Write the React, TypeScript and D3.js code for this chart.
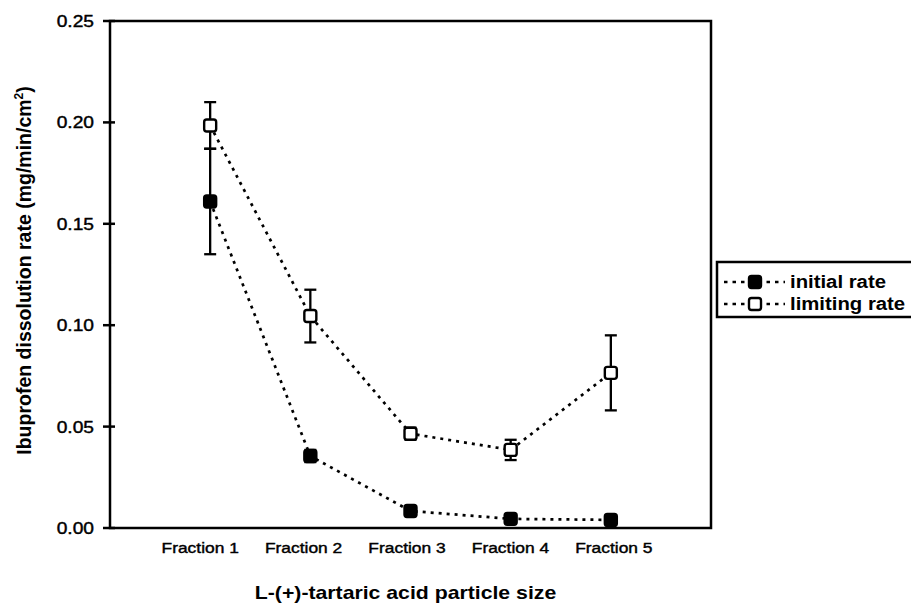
import React from 'react';
import * as d3 from 'd3';

// fractions of L-(+)-tartaric acid
const fractions = ['Fraction 1', 'Fraction 2', 'Fraction 3', 'Fraction 4', 'Fraction 5'];
const initialRate = [0.161, 0.0355, 0.0084, 0.0045, 0.004];
const initialErr = [0.026, 0.003, 0.001, 0.001, 0.001];
const limitingRate = [0.1985, 0.1045, 0.0465, 0.0385, 0.0765];
const limitingErr = [0.0115, 0.013, 0.003, 0.005, 0.0185];
const yTicks = [0, 0.05, 0.1, 0.15, 0.2, 0.25];

const FONT = '"Liberation Sans", Arial, sans-serif';
const W = 911, H = 606;
const margin = {top: 21, right: 200, bottom: 78, left: 110};

const App = () => {
  const x = d3.scaleLinear().domain([0, 6]).range([margin.left, W - margin.right]);
  const y = d3.scaleLinear().domain([0, 0.25]).range([H - margin.bottom, margin.top]);
  // the scan is a little wider than tall, labels are spread the same way
  const xLab = d3.scaleLinear().domain([1, 5]).range([x(1) - 10, x(5) + 3]);
  const fmt = d3.format('.2f');

  const line = d3.line<number>().x((d, i) => x(i + 1)).y(d => y(d));

  const series = [
    {name: 'initial rate', vals: initialRate, err: initialErr, fill: '#000'},
    {name: 'limiting rate', vals: limitingRate, err: limitingErr, fill: '#fff'},
  ];

  const marker = (cx: number, cy: number, fill: string, key?: string) => (
    <rect key={key} x={cx - 6} y={cy - 6} width={12} height={12} rx={2.5}
      fill={fill} stroke="#000" strokeWidth={2.4} />
  );

  return (
    <svg width={W} height={H} style={{position: 'absolute', left: 0, top: 0, background: '#fff'}}
      fontFamily={FONT}>
      {/* frame */}
      <rect x={x(0)} y={y(0.25)} width={x(6) - x(0)} height={y(0) - y(0.25)}
        fill="none" stroke="#000" strokeWidth={2.5} />

      {/* y axis ticks + labels */}
      {yTicks.map(t => (
        <g key={t}>
          <line x1={x(0) - 7} x2={x(0) + 5} y1={y(t)} y2={y(t)} stroke="#000" strokeWidth={2.5} />
          <g transform={`translate(${x(0) - 16},${y(t) + 6}) scale(1.2,1)`}>
            <text textAnchor="end" fontSize={16} fill="#000" stroke="#000" strokeWidth={0.4}>{fmt(t)}</text>
          </g>
        </g>
      ))}

      {/* category labels */}
      {fractions.map((f, i) => (
        <g key={f} transform={`translate(${xLab(i + 1)},${y(0) + 25}) scale(1.2,1)`}>
          <text textAnchor="middle" fontSize={14.5} fill="#000" stroke="#000" strokeWidth={0.4}>{f}</text>
        </g>
      ))}

      {/* dotted lines */}
      {series.map(s => (
        <path key={s.name} d={line(s.vals) || ''} fill="none" stroke="#000"
          strokeWidth={2.7} strokeDasharray="3 5" />
      ))}

      {/* error bars */}
      {series.map(s => s.vals.map((v, i) => (
        <g key={s.name + i} stroke="#000" strokeWidth={2.3}>
          <line x1={x(i + 1)} x2={x(i + 1)} y1={y(v - s.err[i])} y2={y(v + s.err[i])} />
          <line x1={x(i + 1) - 6} x2={x(i + 1) + 6} y1={y(v - s.err[i])} y2={y(v - s.err[i])} />
          <line x1={x(i + 1) - 6} x2={x(i + 1) + 6} y1={y(v + s.err[i])} y2={y(v + s.err[i])} />
        </g>
      )))}

      {/* markers */}
      {series.map(s => s.vals.map((v, i) => marker(x(i + 1), y(v), s.fill, s.name + 'm' + i)))}

      {/* axis titles */}
      <g transform={`translate(${(x(0) + x(6)) / 2 - 5},${H - 7}) scale(1.18,1)`}>
        <text textAnchor="middle" fontSize={18} fontWeight="bold" fill="#000">
          L-(+)-tartaric acid particle size
        </text>
      </g>
      <text transform={`translate(31,${(y(0) + y(0.25)) / 2 - 4}) rotate(-90)`} textAnchor="middle"
        fontSize={19.5} fontWeight="bold" fill="#000">
        Ibuprofen dissolution rate (mg/min/cm<tspan dy={-8} fontSize={12}>2</tspan><tspan dy={8}>)</tspan>
      </text>

      {/* legend */}
      <g transform={`translate(${x(6) + 6},262)`}>
        <rect x={0} y={0} width={200} height={55} fill="#fff" stroke="#000" strokeWidth={2.5} />
        {series.map((s, i) => (
          <g key={s.name} transform={`translate(0,${20 + i * 22})`}>
            <line x1={7} x2={68} y1={0} y2={0} stroke="#000" strokeWidth={2.5} strokeDasharray="3.5 5" />
            {marker(38, 0, s.fill)}
            <g transform="translate(73,6) scale(1.13,1)">
              <text fontSize={18} fontWeight="bold" fill="#000">{s.name}</text>
            </g>
          </g>
        ))}
      </g>
    </svg>
  );
};

export default App;
